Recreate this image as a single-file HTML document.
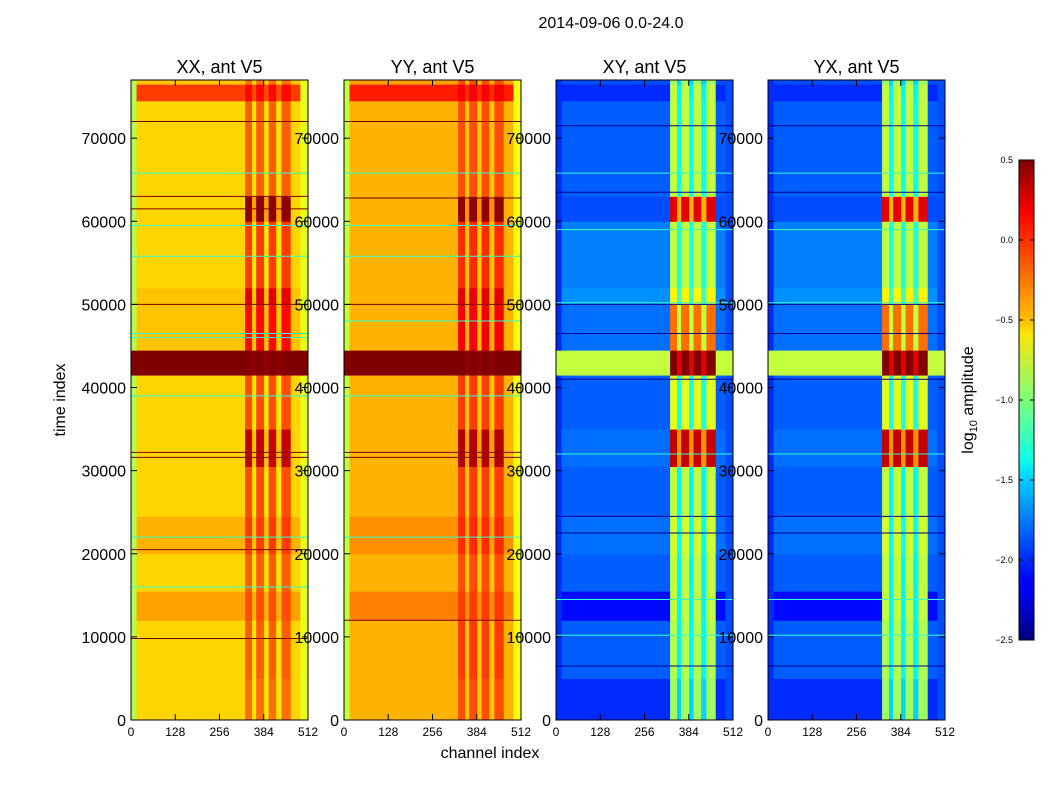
<!DOCTYPE html>
<html><head><meta charset="utf-8"><style>
body{margin:0;background:#fff;}
svg{display:block;font-family:"Liberation Sans",sans-serif;}
</style></head><body>
<svg id="fig" width="1050" height="800">
<text x="611" y="28" font-size="16" text-anchor="middle">2014-09-06 0.0-24.0</text>
<g id="panels"></g>
<text x="490" y="758" font-size="16" text-anchor="middle">channel index</text>
<text transform="translate(65,400) rotate(-90)" font-size="16" text-anchor="middle">time index</text>
<defs><linearGradient id="jetg" x1="0" y1="1" x2="0" y2="0">
<stop offset="0" stop-color="#00007f"/><stop offset="0.11" stop-color="#0000ff"/><stop offset="0.125" stop-color="#0000ff"/><stop offset="0.34" stop-color="#00d4ff"/><stop offset="0.375" stop-color="#0dffe9"/><stop offset="0.5" stop-color="#7dff7a"/><stop offset="0.64" stop-color="#ffe500"/><stop offset="0.66" stop-color="#ffc400"/><stop offset="0.89" stop-color="#ff0000"/><stop offset="1" stop-color="#7f0000"/></linearGradient></defs>
<rect x="1019" y="160" width="15" height="480" fill="url(#jetg)" stroke="#000" stroke-width="1"/>
<g id="cbticks" font-size="9"></g>
<text transform="translate(973,400) rotate(-90)" font-size="16" text-anchor="middle">log<tspan font-size="11" dy="4">10</tspan><tspan dy="-4"> amplitude</tspan></text>
</svg>
<script>
// ---- data ----
const panelTitles = ["XX, ant V5","YY, ant V5","XY, ant V5","YX, ant V5"];
const timeEdges = [0,5000,12000,15500,20000,24500,30500,35000,41500,44500,50000,52000,60000,63000,74500,76500,77000];
const chanEdges = [0,16,330,350,362,385,398,420,435,462,490,512];
const chanType  = ["L","M","B","G","B","G","B","G","B","M","R"];
const mainXX = [-0.5,-0.5,-0.35,-0.5,-0.4,-0.5,-0.5,-0.5,0.5,-0.45,-0.45,-0.5,-0.5,-0.5,-0.05,-0.45];
const bandXX = [-0.2,-0.15,-0.1,-0.15,-0.05,-0.1,0.3,-0.1,0.5,0.1,0.2,-0.05,0.45,-0.15,0.1,-0.2];
const gapXX  = [-0.55,-0.55,-0.4,-0.55,-0.45,-0.55,-0.45,-0.55,0.45,-0.45,-0.45,-0.55,-0.35,-0.55,-0.1,-0.5];
const mainYY = [-0.4,-0.4,-0.25,-0.4,-0.3,-0.4,-0.4,-0.4,0.5,-0.4,-0.4,-0.4,-0.4,-0.4,0.05,-0.35];
const bandYY = [-0.1,-0.05,-0.05,-0.1,0.0,-0.05,0.35,-0.05,0.5,0.15,0.2,0.0,0.45,-0.1,0.15,-0.1];
const gapYY  = [-0.45,-0.45,-0.3,-0.45,-0.35,-0.45,-0.35,-0.45,0.45,-0.4,-0.4,-0.45,-0.3,-0.45,0.0,-0.4];
const mainXY = [-2.0,-1.85,-2.1,-1.85,-1.8,-1.85,-1.8,-1.85,-0.8,-1.8,-1.7,-1.75,-1.9,-1.85,-2.0,-1.9];
const bandXY = [-0.9,-0.85,-0.8,-0.8,-0.75,-0.8,0.3,-0.7,0.5,-0.2,-0.6,-0.8,0.2,-0.8,-0.8,-0.9];
const gapXY  = [-1.5,-1.4,-1.4,-1.4,-1.35,-1.4,-0.3,-1.3,0.2,-0.8,-1.2,-1.3,-0.4,-1.35,-1.4,-1.5];
const edgeVals = [[-0.85,-0.7],[-0.8,-0.65],[-2.0,-1.9],[-2.0,-1.9]];
const darkLines = [[72000,63000,61500,50000,32200,31600,20500,9800],[72000,62800,50000,32200,31600,12000],[71500,63500,50000,46500,41000,24500,22500,6500],[71500,63500,50000,46500,41000,24500,22500,6500]];
const cyanLines = [[65800,59500,55800,46500,46000,39000,22000,16000],[65800,59500,55800,48000,39000,22000],[65800,59000,50200,32000,14500,10200],[65800,59000,50200,32000,14500,10200]];
const yTicks = [0,10000,20000,30000,40000,50000,60000,70000];
const xTicks = [0,128,256,384,512];
const cbTicks = [0.5,0.0,-0.5,-1.0,-1.5,-2.0,-2.5];
// ---- drawing ----
const NS="http://www.w3.org/2000/svg";
const panelX=[131,344,556,768], PW=177, PT=80, PB=720;
const yS=t=>PB-(t/77000)*(PB-PT);
function jet(v){let x=(v+2.5)/3;x=Math.max(0,Math.min(1,x));
 const r=Math.max(0,Math.min(1,1.5-Math.abs(4*x-3))),g=Math.max(0,Math.min(1,1.5-Math.abs(4*x-2))),b=Math.max(0,Math.min(1,1.5-Math.abs(4*x-1)));
 return `rgb(${Math.round(r*255)},${Math.round(g*255)},${Math.round(b*255)})`;}
function mk(tag,at,par){const e=document.createElementNS(NS,tag);for(const k in at)e.setAttribute(k,at[k]);par.appendChild(e);return e;}
const root=document.getElementById('panels');
const mains=[mainXX,mainYY,mainXY,mainXY], bands=[bandXX,bandYY,bandXY,bandXY], gaps=[gapXX,gapYY,gapXY,gapXY];
panelTitles.forEach((title,p)=>{
 const x0=panelX[p], xS=c=>x0+c/512*PW;
 const g=mk('g',{},root);
 
 
 for(let r=0;r<timeEdges.length-1;r++){
  for(let c=0;c<chanType.length;c++){
   const t=chanType[c];
   const v=t==="L"?(r===8?mains[p][r]:edgeVals[p][0]):t==="R"?(r===8?mains[p][r]:edgeVals[p][1]):t==="M"?mains[p][r]:t==="B"?bands[p][r]:gaps[p][r];
   const x1=xS(chanEdges[c]),x2=xS(chanEdges[c+1]),y1=yS(timeEdges[r+1]),y2=yS(timeEdges[r]);
   const cell=mk('rect',{x:x1,y:y1,width:x2-x1+0.5,height:y2-y1+0.5,fill:jet(v)},g);
   
   
  }
 }
 darkLines[p].forEach(t=>{const l=mk('line',{x1:x0,x2:x0+PW,y1:yS(t),y2:yS(t),stroke:p<2?'#7f0000':'#00008f','stroke-width':1},g);
  
  });
 cyanLines[p].forEach(t=>{const l=mk('line',{x1:x0,x2:x0+PW,y1:yS(t),y2:yS(t),stroke:'#30ffd0','stroke-width':1},g);
  
  });
 const fr=mk('rect',{x:x0,y:PT,width:PW,height:PB-PT,fill:'none',stroke:'#000','stroke-width':1},g);
 
 
 const tt=mk('text',{x:x0+PW/2,y:73,'font-size':18,'text-anchor':'middle'},g);tt.textContent=title;
 
 
 yTicks.forEach(t=>{const y=yS(t);
  mk('line',{x1:x0,x2:x0+6,y1:y,y2:y,stroke:'#000'},g);mk('line',{x1:x0+PW-6,x2:x0+PW,y1:y,y2:y,stroke:'#000'},g);
  const e=mk('text',{x:x0-5,y:y+6,'font-size':16,'text-anchor':'end'},g);e.textContent=t;
  
  });
 xTicks.forEach(c=>{const x=xS(c);
  mk('line',{x1:x,x2:x,y1:PB,y2:PB-6,stroke:'#000'},g);mk('line',{x1:x,x2:x,y1:PT,y2:PT+6,stroke:'#000'},g);
  const e=mk('text',{x:x,y:736,'font-size':12,'text-anchor':'middle'},g);e.textContent=c;
  
  });
});
const cb=document.getElementById('cbticks');
cbTicks.forEach(v=>{const y=160+(0.5-v)/3*480;
 mk('line',{x1:1019,x2:1023,y1:y,y2:y,stroke:'#000'},cb);mk('line',{x1:1030,x2:1034,y1:y,y2:y,stroke:'#000'},cb);
 const e=mk('text',{x:1013,y:y+3,'font-size':9,'text-anchor':'end'},cb);e.textContent=(v<0?'\u2212':'')+Math.abs(v).toFixed(1);
 
 });
</script>
</body></html>
